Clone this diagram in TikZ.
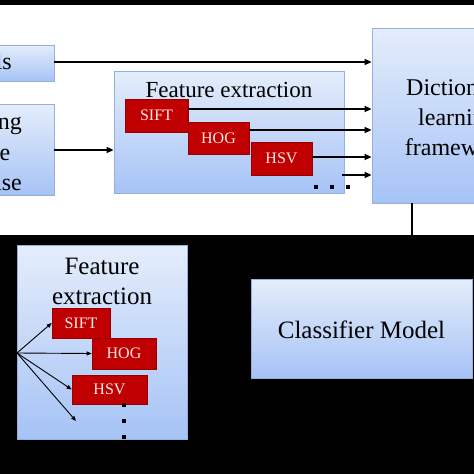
\documentclass[tikz,border=0pt]{standalone}
\usepackage{fontspec}
\setmainfont{Liberation Serif}
\usetikzlibrary{arrows.meta}
\definecolor{btop}{RGB}{228,237,251}
\definecolor{bbot}{RGB}{166,195,246}
\definecolor{bedge}{RGB}{150,176,216}
\definecolor{fred}{RGB}{192,0,0}
\definecolor{fredge}{RGB}{150,0,0}
\definecolor{ftxt}{RGB}{255,235,235}
\tikzset{
  bluebox/.style={draw=bedge, line width=0.8pt, top color=btop, bottom color=bbot, inner sep=0pt},
  redbox/.style={draw=fredge, line width=0.6pt, fill=fred, text=ftxt, font=\fontsize{16}{16}\selectfont, inner sep=0pt},
  bigarr/.style={draw=black, line width=1.6pt, -{Triangle[length=7pt,width=6pt]}},
  thinarr/.style={draw=black, line width=0.9pt, -{Triangle[length=5pt,width=4pt]}},
  dotsq/.style={fill=black, minimum size=4.5pt, inner sep=0pt, draw=none},
  lbl/.style={font=\fontsize{24}{30}\selectfont, inner sep=0pt}
}
\begin{document}
\begin{tikzpicture}[x=1pt,y=-1pt]
\useasboundingbox (0,0) rectangle (474,474);
\clip (0,0) rectangle (474,474);
\fill[white] (0,0) rectangle (474,474);
\fill[black] (0,0) rectangle (474,4.5);
\fill[black] (0,235) rectangle (474,474);

% top-left boxes
\node[bluebox, minimum width=114pt, minimum height=36pt] (lab) at (-3,63) {};
\node[lbl, anchor=base east] (labt) at (12,69) {Labels};
\node[bluebox, minimum width=114pt, minimum height=91pt] (tr) at (-3,149.5) {};
\node[lbl, anchor=base east] (tr1) at (22,129) {Training};
\node[lbl, anchor=base east] (tr2) at (10.5,160) {image};
\node[lbl, anchor=base east] (tr3) at (22,190) {database};

% feature extraction top
\node[bluebox, minimum width=230pt, minimum height=122pt] (fe) at (229,132) {};
\node[lbl, font=\fontsize{23}{23}\selectfont, anchor=base] (fet) at (229,97) {Feature extraction};
\node[redbox, minimum width=63pt, minimum height=33pt] (sift) at (156.5,115.5) {SIFT};
\node[redbox, minimum width=61pt, minimum height=32pt] (hog) at (218.5,138) {HOG};
\node[redbox, minimum width=61pt, minimum height=33pt] (hsv) at (281.5,158.5) {HSV};
\node[dotsq] (d1) at (316,187) {};
\node[dotsq] (d2) at (332,187) {};
\node[dotsq] (d3) at (348,187) {};

% dictionary
\node[bluebox, minimum width=174pt, minimum height=175pt] (dict) at (459,115.5) {};
\node[lbl, align=center] (dictt) at (457.5,118) {Dictionary\\learning\\framework};

% connectors top
\draw[bigarr] (lab.east |- 0,62) -- (dict.west |- 0,62);
\draw[bigarr] (sift.east |- 0,109) -- (dict.west |- 0,109);
\draw[bigarr] (hog.east |- 0,130) -- (dict.west |- 0,130);
\draw[bigarr] (hsv.east |- 0,157) -- (dict.west |- 0,157);
\coordinate (more) at (342,175);
\draw[bigarr] (more) -- (dict.west |- more);
\draw[bigarr] (tr.east |- 0,150) -- (fe.west |- 0,150);
\coordinate (down) at (412,240);
\draw[black, line width=1.6pt] (dict.south -| down) -- (down);

% bottom left feature extraction
\node[bluebox, minimum width=170pt, minimum height=194pt] (fe2) at (102,342) {};
\node[lbl, font=\fontsize{25}{30}\selectfont, align=center] (fe2t) at (102,281) {Feature\\extraction};
\node[redbox, minimum width=58pt, minimum height=30pt] (sift2) at (81,323) {SIFT};
\node[redbox, minimum width=64pt, minimum height=31pt] (hog2) at (124,353.5) {HOG};
\node[redbox, minimum width=75pt, minimum height=29pt] (hsv2) at (109.5,389.5) {HSV};
\coordinate (src) at (17,353);
\coordinate (extra) at (76,421);
\draw[thinarr] (src) -- (sift2.west);
\draw[thinarr] (src) -- (hog2.west);
\draw[thinarr] (src) -- (hsv2.west);
\draw[thinarr] (src) -- (extra);
\node[dotsq] (e1) at (124,405) {};
\node[dotsq] (e2) at (124,421) {};
\node[dotsq] (e3) at (124,437) {};

% classifier
\node[bluebox, minimum width=221pt, minimum height=99pt] (cls) at (361.5,328.5) {};
\node[lbl, font=\fontsize{25}{25}\selectfont] (clst) at (361.5,330) {Classifier Model};
\end{tikzpicture}
\end{document}
